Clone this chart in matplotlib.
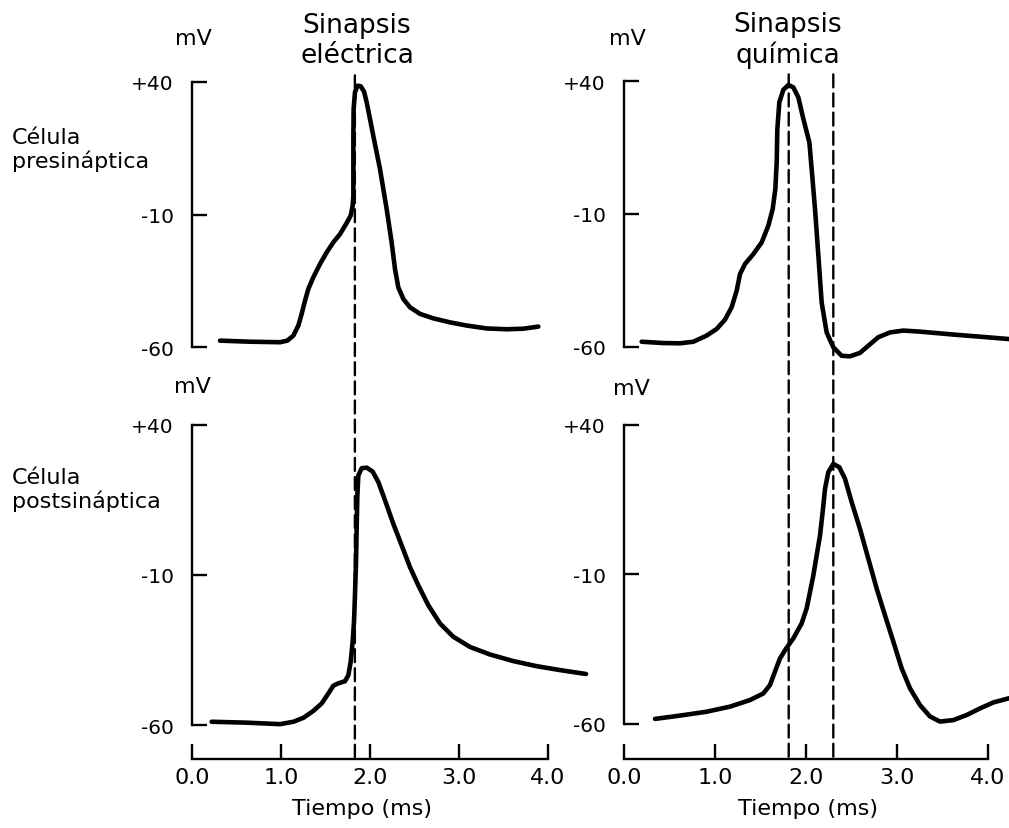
"""Action potentials across an electrical and a chemical synapse."""

import matplotlib
matplotlib.use('Agg')
import matplotlib.pyplot as plt
from matplotlib.patches import ConnectionPatch

# Electrical synapse: presynaptic trace (ms, mV)
elec_pre_t = [0.315, 0.652, 0.989, 1.071, 1.139, 1.195, 1.232, 1.270, 1.307, 1.363, 1.438,
              1.513, 1.588, 1.663, 1.738, 1.783, 1.805, 1.813, 1.813, 1.813, 1.816, 1.831,
              1.858, 1.895, 1.933, 1.963, 2.037, 2.112, 2.187, 2.243, 2.281, 2.318, 2.375,
              2.449, 2.562, 2.712, 2.899, 3.086, 3.311, 3.536, 3.723, 3.891]
elec_pre_v = [-57.6, -58.0, -58.2, -57.6, -55.7, -51.9, -47.5, -42.5, -38.1, -33.7, -28.7,
              -24.3, -20.5, -17.4, -13.2, -10.4, -6.7, -2.9, 7.2, 19.7, 29.8, 36.1,
              38.6, 38.4, 36.4, 32.3, 19.7, 7.2, -7.9, -20.5, -30.6, -37.5, -41.9,
              -45.0, -47.5, -49.2, -50.7, -51.9, -53.0, -53.3, -53.1, -52.3]

# Electrical synapse: postsynaptic trace
elec_post_t = [0.221, 0.614, 0.989, 1.139, 1.251, 1.363, 1.457, 1.532, 1.588, 1.644, 1.719,
               1.757, 1.783, 1.805, 1.820, 1.831, 1.843, 1.850, 1.858, 1.869, 1.906, 1.963,
               2.030, 2.094, 2.169, 2.262, 2.356, 2.449, 2.543, 2.655, 2.787, 2.936, 3.124,
               3.348, 3.610, 3.873, 4.135, 4.427]
elec_post_v = [-58.9, -59.2, -59.7, -58.9, -57.6, -55.3, -52.8, -49.5, -46.9, -46.1, -45.4,
               -43.4, -38.9, -32.3, -25.7, -16.8, -5.7, 5.3, 16.4, 23.1, 25.5, 25.7,
               24.4, 20.9, 14.8, 7.0, -0.2, -7.4, -13.5, -20.1, -26.2, -30.6, -34.0,
               -36.5, -38.7, -40.4, -41.7, -43.0]

# Chemical synapse: presynaptic trace
chem_pre_t = [0.194, 0.432, 0.615, 0.762, 0.908, 1.018, 1.110, 1.183, 1.238, 1.275, 1.330,
              1.421, 1.513, 1.586, 1.634, 1.663, 1.678, 1.685, 1.707, 1.751, 1.806, 1.861,
              1.916, 1.971, 2.037, 2.062, 2.099, 2.136, 2.172, 2.227, 2.300, 2.392, 2.484,
              2.593, 2.685, 2.795, 2.923, 3.070, 3.253, 3.619, 3.985, 4.231]
chem_pre_v = [-58.2, -58.7, -58.8, -58.2, -55.9, -53.4, -49.9, -45.2, -39.0, -32.7, -28.9,
              -25.2, -20.8, -14.5, -8.2, -0.7, 9.4, 21.9, 32.0, 36.7, 38.5, 37.6,
              33.8, 25.7, 16.9, 6.9, -8.2, -25.8, -43.4, -54.7, -60.3, -63.5, -63.7,
              -62.4, -59.7, -56.5, -54.7, -54.0, -54.4, -55.5, -56.5, -57.2]

# Chemical synapse: postsynaptic trace
chem_post_t = [0.341, 0.615, 0.908, 1.165, 1.385, 1.531, 1.604, 1.659, 1.714, 1.788, 1.861,
               1.952, 2.007, 2.044, 2.081, 2.117, 2.154, 2.183, 2.209, 2.245, 2.300, 2.366,
               2.429, 2.502, 2.593, 2.685, 2.777, 2.868, 2.960, 3.051, 3.143, 3.253, 3.363,
               3.473, 3.619, 3.766, 3.912, 4.059, 4.231]
chem_post_v = [-58.3, -57.2, -55.9, -54.2, -52.0, -49.8, -47.0, -42.5, -38.1, -34.5, -31.4,
               -26.4, -21.4, -15.9, -10.3, -3.7, 3.0, 10.8, 18.6, 24.1, 26.9, 25.8,
               21.9, 14.1, 5.2, -4.8, -14.8, -23.7, -32.5, -41.4, -48.1, -53.7, -57.5,
               -59.2, -58.7, -57.0, -54.8, -52.8, -51.4]

# Time markers (dashed lines)
elec_marks_t = [1.83]
chem_marks_t = [1.81, 2.30]
mark_top_mv = 42.5

y_ticks = [40, -10, -60]
y_tick_labels = ['+40', '-10', '-60']
x_ticks = [0, 1, 2, 3, 4]
x_tick_labels = ['0.0', '1.0', '2.0', '3.0', '4.0']

plt.rcParams['font.family'] = ['DejaVu Sans']

W, H = 1009, 829
fig = plt.figure(figsize=(W / 100, H / 100), dpi=100)


def px_rect(x0, y0, x1, y1):
    return [x0 / W, 1 - y1 / H, (x1 - x0) / W, (y1 - y0) / H]


def px_text(x, y, s, **kw):
    fig.text(x / W, 1 - y / H, s, **kw)


def style_y(ax):
    for side in ('top', 'right'):
        ax.spines[side].set_visible(False)
    ax.spines['left'].set_bounds(-60, 40)
    ax.spines['left'].set_linewidth(1.7)
    ax.set_yticks(y_ticks)
    ax.set_yticklabels(y_tick_labels)
    ax.tick_params(axis='y', direction='in', length=11, width=1.7, pad=13, labelsize=14.5)
    ax.set_xlim(0, 4)
    ax.patch.set_visible(False)


def make_column(x0, x1, top_px, bot_px, bot_ylim):
    ax_top = fig.add_axes(px_rect(x0, top_px[0], x1, top_px[1]))
    ax_top.set_ylim(-60, 40)
    style_y(ax_top)
    ax_top.spines['bottom'].set_visible(False)
    ax_top.set_xticks([])

    ax_bot = fig.add_axes(px_rect(x0, bot_px[0], x1, bot_px[1]))
    ax_bot.set_ylim(bot_ylim, 40)
    style_y(ax_bot)
    ax_bot.spines['bottom'].set_bounds(0, 4)
    ax_bot.spines['bottom'].set_linewidth(1.7)
    ax_bot.set_xticks(x_ticks)
    ax_bot.set_xticklabels(x_tick_labels)
    ax_bot.tick_params(axis='x', direction='in', length=11, width=1.7, pad=6, labelsize=16)
    return ax_top, ax_bot


def draw_marks(ax_top, ax_bot, times):
    for t in times:
        line = ConnectionPatch(xyA=(t, mark_top_mv), coordsA=ax_top.transData,
                               xyB=(t, ax_bot.get_ylim()[0]), coordsB=ax_bot.transData,
                               color='black', linewidth=1.7, linestyle=(0, (5.5, 2.6)))
        fig.add_artist(line)


trace_kw = dict(color='black', linewidth=3.3, clip_on=False,
                solid_joinstyle='round', solid_capstyle='round')

# Electrical synapse column
e_top, e_bot = make_column(192, 548, (83, 348), (425.7, 760), -71.3)
e_top.plot(elec_pre_t, elec_pre_v, **trace_kw)
e_bot.plot(elec_post_t, elec_post_v, **trace_kw)
draw_marks(e_top, e_bot, elec_marks_t)

# Chemical synapse column
c_top, c_bot = make_column(624, 988, (82, 347.5), (425.7, 760), -71.7)
c_top.plot(chem_pre_t, chem_pre_v, **trace_kw)
c_bot.plot(chem_post_t, chem_post_v, **trace_kw)
draw_marks(c_top, c_bot, chem_marks_t)

# Headings and labels (va='baseline' pins the last line of each block)
px_text(357, 63, 'Sinapsis\neléctrica', ha='center', va='baseline', fontsize=19,
        linespacing=1.18)
px_text(788, 63, 'Sinapsis\nquímica', ha='center', va='baseline', fontsize=19,
        linespacing=1.18)
px_text(193, 45, 'mV', ha='center', va='baseline', fontsize=16)
px_text(627, 45, 'mV', ha='center', va='baseline', fontsize=16)
px_text(192, 393, 'mV', ha='center', va='baseline', fontsize=16)
px_text(631, 395, 'mV', ha='center', va='baseline', fontsize=16)
px_text(12, 168, 'Célula\npresináptica', ha='left', va='baseline', fontsize=16,
        linespacing=1.15)
px_text(12, 508, 'Célula\npostsináptica', ha='left', va='baseline', fontsize=16,
        linespacing=1.15)
px_text(362, 815, 'Tiempo (ms)', ha='center', va='baseline', fontsize=16)
px_text(808, 815, 'Tiempo (ms)', ha='center', va='baseline', fontsize=16)

fig.savefig('out.png', dpi=100, facecolor='white')
